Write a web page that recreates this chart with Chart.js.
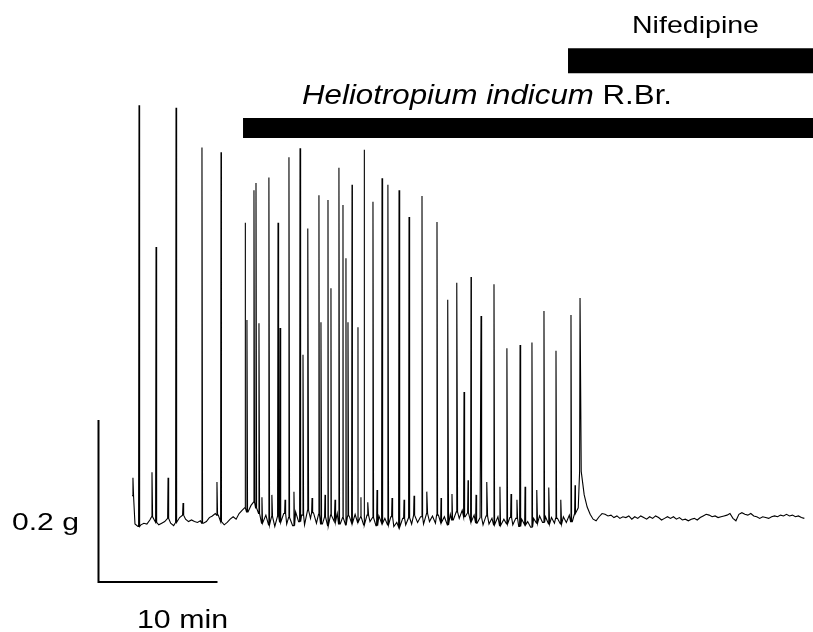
<!DOCTYPE html>
<html>
<head>
<meta charset="utf-8">
<script src="https://cdn.jsdelivr.net/npm/chart.js@4/dist/chart.umd.min.js"></script>
<style>
html,body{margin:0;padding:0;background:#fff;}
#c{display:block;}
</style>
</head>
<body>
<canvas id="c" width="813" height="632"></canvas>
<script>
// ---- Data (time in min, force in g relative to resting baseline) ----
const baselineStep = 0.25; // sampling interval of baseline trace (min)
const baselineForce = [
  // control period
  0.030,-0.005,-0.008,-0.006,-0.004,-0.005,0.000,0.004,-0.003,-0.006,-0.004,-0.002,0.002,-0.004,-0.007,-0.003,
  0.003,0.006,0.001,-0.002,0.000,-0.002,-0.003,-0.001,-0.004,-0.002,0.003,0.005,0.008,0.006,-0.002,-0.006,
  -0.003,0.001,0.004,0.001,0.008,
  // Heliotropium indicum
  0.012,0.015,0.010,0.018,0.022,0.015,0.008,-0.004,0.006,-0.006,0.004,-0.008,0.005,-0.003,0.008,-0.005,
  0.003,-0.007,0.010,-0.002,0.006,-0.006,0.012,0.002,0.009,-0.004,0.007,-0.005,0.004,-0.007,0.006,-0.002,
  0.008,-0.005,0.003,-0.006,0.005,-0.004,0.007,-0.003,0.004,-0.006,0.006,-0.002,0.003,-0.007,0.005,-0.004,
  0.002,-0.006,0.004,-0.008,-0.003,-0.009,0.002,-0.006,0.003,-0.005,0.006,-0.003,0.004,-0.005,0.008,-0.002,
  0.005,-0.004,0.006,-0.003,0.004,-0.006,0.007,0.000,0.010,0.002,0.012,0.004,0.009,-0.002,0.006,-0.004,
  0.003,-0.006,0.005,-0.005,0.002,-0.006,0.004,-0.007,0.001,-0.005,0.003,-0.006,0.002,-0.008,0.001,-0.006,
  -0.002,-0.009,0.002,-0.004,0.005,-0.003,0.004,-0.005,0.003,-0.004,0.002,-0.005,0.004,-0.003,0.006,-0.002,
  0.008,0.015,0.060,0.031,
  // + Nifedipine
  0.016,0.007,0.001,-0.001,0.004,0.008,0.007,0.005,0.006,0.003,0.005,0.002,0.004,0.003,0.005,0.001,
  0.004,0.002,0.005,0.003,0.001,0.004,0.002,0.005,0.003,0.000,0.002,0.004,0.002,0.004,0.001,0.003,
  0.000,0.001,-0.001,0.001,0.002,0.000,0.003,0.005,0.007,0.006,0.004,0.005,0.003,0.004,0.005,0.006,
  0.008,0.002,-0.001,0.007,0.009,0.007,0.006,0.008,0.005,0.004,0.002,0.004,0.003,0.002,0.004,0.005,
  0.004,0.006,0.005,0.007,0.005,0.006,0.004,0.005,0.003,0.002
];
// contraction peaks
const spikeTimes = [
  0.08,0.59,1.68,2.02,3.03,3.70,4.29,5.88,7.14,7.48,
  9.50,9.66,10.25,10.42,10.67,10.92,11.51,11.76,12.27,12.44,12.86,13.19,13.61,14.12,14.37,14.79,
  15.13,15.71,15.88,16.22,16.47,16.72,17.06,17.39,17.73,17.98,18.15,18.49,18.99,19.24,19.50,19.83,
  20.25,20.59,21.01,21.51,21.85,22.44,22.86,23.28,23.70,24.37,24.79,25.63,25.97,26.55,26.89,27.31,
  27.90,28.24,28.49,28.91,29.33,29.83,30.42,30.92,31.51,31.85,32.35,32.61,33.03,33.61,34.03,34.62,
  35.04,35.63,36.05,36.89,37.23,37.65
];
const spikePeaks = [
  0.052,0.512,0.059,0.337,0.052,0.509,0.021,0.460,0.047,0.454,
  0.367,0.247,0.407,0.416,0.243,0.028,0.423,0.031,0.367,0.237,0.025,0.448,0.035,0.459,0.204,0.360,
  0.027,0.401,0.244,0.031,0.395,0.286,0.025,0.435,0.389,0.323,0.244,0.414,0.238,0.028,0.457,0.022,
  0.393,0.037,0.422,0.414,0.027,0.407,0.025,0.374,0.030,0.400,0.035,0.368,0.027,0.272,0.032,0.293,
  0.158,0.049,0.300,0.031,0.252,0.047,0.291,0.041,0.212,0.032,0.025,0.216,0.041,0.219,0.037,0.258,
  0.040,0.209,0.025,0.253,0.043,0.274
];
// treatment periods (min)
const treatmentNames = ["Heliotropium indicum R.Br.", "Nifedipine"];
const treatmentStart = [9.33, 36.64];
const treatmentLevel = [0.484, 0.567];
// calibration bars
const scaleBarTime = 10;   // min
const scaleBarForce = 0.2; // g

// ---- Build trace ----
const trace = [];
baselineForce.forEach((v, i) => trace.push({x: i * baselineStep, y: v}));
spikeTimes.forEach((t, i) => {
  const k = Math.min(baselineForce.length - 1, Math.round(t / baselineStep));
  const foot = baselineForce[k];
  trace.push({x: t - 0.035, y: foot});
  trace.push({x: t, y: spikePeaks[i]});
  if (i !== spikeTimes.length - 1) trace.push({x: t + 0.05, y: foot});
});
trace.sort((a, b) => a.x - b.x);

const X_MIN = -11.092, X_MAX = 57.227, Y_MIN = -0.1383, Y_MAX = 0.642;
const sbX0 = -2.815, sbY0 = -0.0765;

const barDatasets = treatmentStart.map((s, i) => ({
  data: [{x: s, y: treatmentLevel[i]}, {x: X_MAX, y: treatmentLevel[i]}],
  borderColor: '#000', borderWidth: i === 0 ? 20 : 25, borderCapStyle: 'butt',
  pointRadius: 0, clip: false, tension: 0
}));

function drawFit(ctx, parts, left, baseline, size, width) {
  ctx.save();
  let total = 0;
  parts.forEach(p => { ctx.font = (p.italic ? 'italic ' : '') + size + 'px "Liberation Sans", Arial, sans-serif'; total += ctx.measureText(p.t).width; });
  const sx = width / total;
  ctx.translate(left, baseline);
  ctx.scale(sx, 1);
  ctx.fillStyle = '#000';
  ctx.textBaseline = 'alphabetic';
  ctx.textAlign = 'left';
  let x = 0;
  parts.forEach(p => {
    ctx.font = (p.italic ? 'italic ' : '') + size + 'px "Liberation Sans", Arial, sans-serif';
    ctx.fillText(p.t, x, 0);
    x += ctx.measureText(p.t).width;
  });
  ctx.restore();
}

const labelPlugin = {
  id: 'labels',
  afterDraw(chart) {
    const ctx = chart.ctx;
    const hn = treatmentNames[0].split(' ');
    drawFit(ctx, [{t: hn[0] + ' ' + hn[1], italic: true}, {t: ' ' + hn.slice(2).join(' '), italic: false}], 302, 104, 27, 370);
    drawFit(ctx, [{t: treatmentNames[1]}], 632, 33, 24, 127);
    drawFit(ctx, [{t: scaleBarForce + ' g'}], 12, 530, 24, 67);
    drawFit(ctx, [{t: scaleBarTime + ' min'}], 137, 628, 25, 91);
  }
};

new Chart(document.getElementById('c'), {
  type: 'line',
  data: {
    datasets: [
      {data: trace, borderColor: '#000', borderWidth: 1.1, pointRadius: 0, tension: 0, clip: false},
      ...barDatasets,
      {data: [{x: sbX0, y: sbY0 + scaleBarForce}, {x: sbX0, y: sbY0}, {x: sbX0 + scaleBarTime, y: sbY0}],
       borderColor: '#000', borderWidth: 2, pointRadius: 0, tension: 0, clip: false, borderJoinStyle: 'miter'}
    ]
  },
  options: {
    responsive: false, animation: false, devicePixelRatio: 1,
    layout: {padding: 0},
    plugins: {legend: {display: false}, tooltip: {enabled: false}},
    scales: {
      x: {type: 'linear', min: X_MIN, max: X_MAX, display: false},
      y: {type: 'linear', min: Y_MIN, max: Y_MAX, display: false}
    }
  },
  plugins: [labelPlugin]
});
</script>
</body>
</html>
